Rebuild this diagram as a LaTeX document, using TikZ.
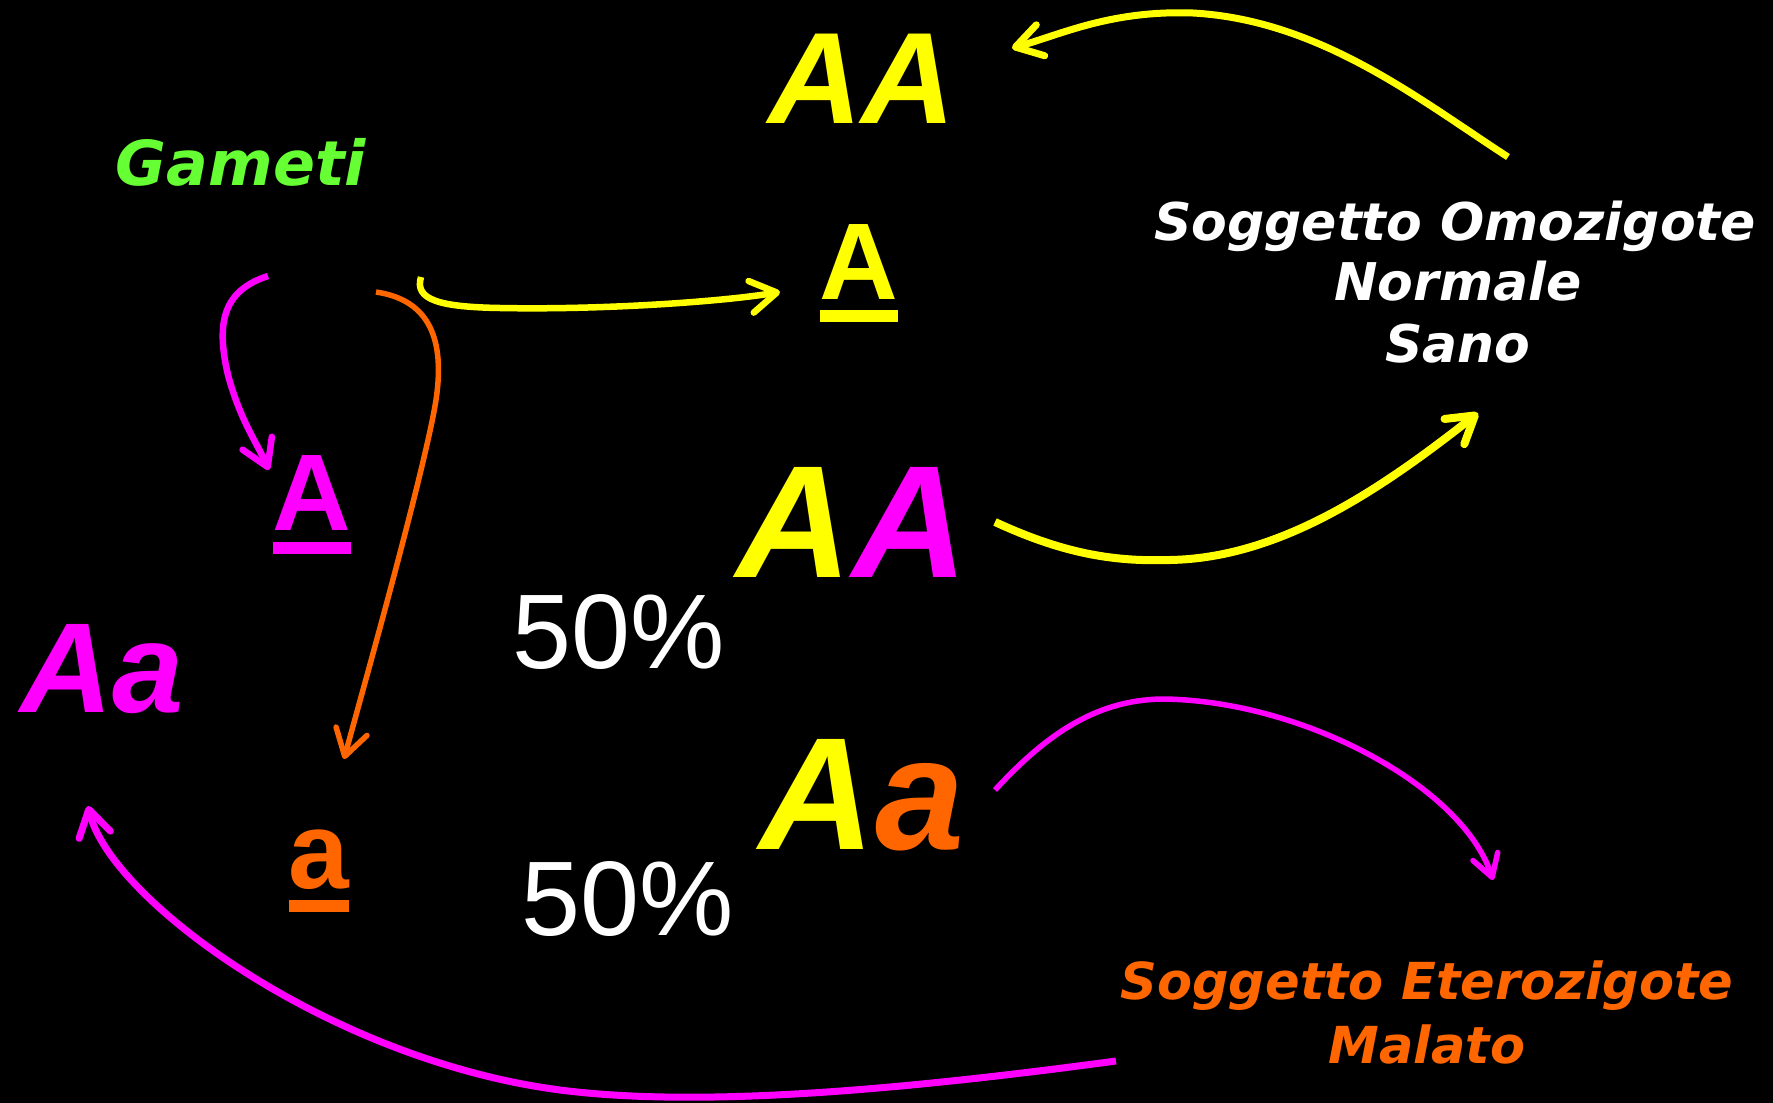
\documentclass[tikz,border=0pt]{standalone}
\usepackage{fontspec}
\setmainfont{Liberation Sans}
\newfontfamily\arialf{Liberation Sans}
\newfontfamily\verdf{DejaVu Sans}
\usetikzlibrary{arrows.meta}
\definecolor{ylw}{HTML}{FFFF00}
\definecolor{mag}{HTML}{FF00FF}
\definecolor{org}{HTML}{FF6600}
\definecolor{grn}{HTML}{66FF33}
\tikzset{
  txt/.style={inner sep=0pt, outer sep=0pt, anchor=base},
  bigit/.style={txt, font=\arialf\bfseries\itshape\fontsize{#1}{#1}\selectfont},
  gamete/.style={txt, font=\arialf\bfseries\fontsize{109}{109}\selectfont},
  pct/.style={txt, text=white, font=\arialf\fontsize{106}{106}\selectfont},
  lbl/.style={txt, font=\verdf\bfseries\itshape\fontsize{#1}{#1}\selectfont},
  arr/.style={-{Straight Barb[length=26pt,width=32pt,round]}},
  arrsmall/.style={-{Straight Barb[length=22pt,width=26pt,round]}}
}
\begin{document}
\begin{tikzpicture}[x=1pt,y=-1pt]
\fill[black] (0,0) rectangle (1773,1103);
\useasboundingbox (0,0) rectangle (1773,1103);

% labels
\node[lbl=62, text=grn] (gam) at (241,185) {Gameti};
\node[lbl=52, text=white] (som1) at (1455,240) {Soggetto Omozigote};
\node[lbl=52, text=white] (som2) at (1458,300) {Normale};
\node[lbl=52, text=white] (som3) at (1458,362) {Sano};
\node[lbl=51, text=org] (set1) at (1427,999) {Soggetto Eterozigote};
\node[lbl=51, text=org] (set2) at (1427,1063) {Malato};

% genotypes
\node[bigit=130, text=ylw] (AAtop) at (862,123) {AA};
\node[bigit=128, text=mag] (Aaleft) at (102,712) {Aa};
\node[bigit=160] (AAmid) at (852,577) {\textcolor{ylw}{A}\textcolor{mag}{A}};
\node[bigit=160] (Aamid) at (862,849) {\textcolor{ylw}{A}\textcolor{org}{a}};

% gametes
\node[gamete, text=ylw] (uAy) at (859,299) {A};
\fill[ylw] ([yshift=-11pt]uAy.base west) rectangle ([yshift=-23pt]uAy.base east);
\node[gamete, text=mag] (uAm) at (312,530) {A};
\fill[mag] ([yshift=-12pt]uAm.base west) rectangle ([yshift=-24pt]uAm.base east);
\node[gamete, text=org] (ua) at (319,888) {a};
\fill[org] ([yshift=-12pt]ua.base west) rectangle ([yshift=-24pt]ua.base east);

% percentages
\node[pct] (p1) at (619,668) {50\%};
\node[pct] (p2) at (628,935) {50\%};

% connector ends
\coordinate (ytopS) at (1508,157);
\coordinate (ytopE) at (1012,48);
\coordinate (hookS) at (421,277);
\coordinate (hookE) at (780,292);
\coordinate (mtlS) at (268,276);
\coordinate (mtlE) at (269,470);
\coordinate (orS) at (376,292);
\coordinate (orE) at (344,759);
\coordinate (ymidS) at (995,522);
\coordinate (ymidE) at (1478,413);
\coordinate (mlrS) at (995,790);
\coordinate (mlrE) at (1493,880);
\coordinate (mbS) at (1116,1061);
\coordinate (mbE) at (88,806);

% arrows
\draw[arr, ylw, line width=7pt] (ytopS) .. controls (1420,100) and (1320,20) .. (1193,13)
  .. controls (1110,10) and (1060,35) .. (ytopE);
\draw[arr, ylw, line width=6.5pt] (hookS) .. controls (414,300) and (440,307) .. (500,308)
  .. controls (600,310) and (720,302) .. (hookE);
\draw[arr, mag, line width=6.5pt] (mtlS) .. controls (225,290) and (215,320) .. (228,375)
  .. controls (240,420) and (258,445) .. (mtlE);
\draw[arr, org, line width=5.5pt] (orS) .. controls (430,300) and (445,340) .. (436,400)
  .. controls (425,470) and (360,700) .. (orE);
\draw[arr, ylw, line width=8pt] (ymidS) .. controls (1060,552) and (1110,562) .. (1170,560)
  .. controls (1280,558) and (1380,490) .. (ymidE);
\draw[arrsmall, mag, line width=5.5pt] (mlrS) .. controls (1050,730) and (1100,700) .. (1162,699)
  .. controls (1300,700) and (1462,785) .. (mlrE);
\draw[arr, mag, line width=7pt] (mbS) .. controls (900,1090) and (700,1108) .. (560,1090)
  .. controls (330,1060) and (110,900) .. (mbE);
\end{tikzpicture}
\end{document}
